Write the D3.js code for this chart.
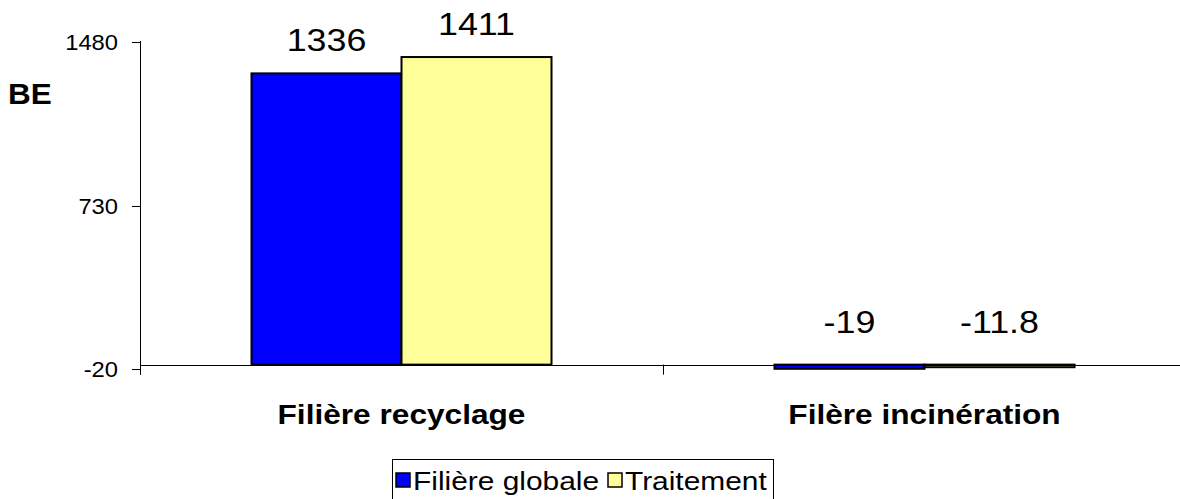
<!DOCTYPE html>
<html>
<head>
<meta charset="utf-8">
<script src="https://cdn.jsdelivr.net/npm/d3@7"></script>
<style>
  html, body { margin: 0; padding: 0; background: #fff; }
  svg { display: block; font-family: "Liberation Sans", Arial, sans-serif; }
</style>
</head>
<body>
<svg id="chart" width="1180" height="499"></svg>
<script>
// Chart data
const categories = ["Filière recyclage", "Filère incinération"];
const seriesNames = ["Filière globale", "Traitement"];
const globaleValues = [1336, -19];
const traitementValues = [1411, -11.8];
const valueLabels = [["1336", "1411"], ["-19", "-11.8"]];
const yTicks = [-20, 730, 1480];
const colors = ["#0000FF", "#FFFF99"];

const svg = d3.select("#chart");

function stretchedText(g, x, y, txt, size, weight, anchor, sx) {
  return g.append("text")
    .attr("transform", `translate(${x},${y}) scale(${sx || 1.15},1)`)
    .attr("text-anchor", anchor || "middle")
    .attr("font-size", size)
    .attr("font-weight", weight || "normal")
    .attr("fill", "#000")
    .text(txt);
}

const y = d3.scaleLinear().domain([-20, 1480]).range([369, 42]);
const x = d3.scaleBand().domain(categories).range([140, 1186]).paddingInner(0).paddingOuter(0);
const barW = 150;
const xs = d3.scaleBand().domain(seriesNames).range([-barW, barW]);

const rows = categories.map((c, i) => ({
  cat: c,
  vals: [globaleValues[i], traitementValues[i]],
  labels: valueLabels[i]
}));

// Bars, measured from zero
const gBars = svg.append("g");
rows.forEach(r => {
  const cx = x(r.cat) + x.bandwidth() / 2;
  r.vals.forEach((v, j) => {
    const y0 = y(Math.max(0, v)), y1 = y(Math.min(0, v));
    gBars.append("rect")
      .attr("x", cx + xs(seriesNames[j]))
      .attr("y", y0)
      .attr("width", xs.bandwidth())
      .attr("height", y1 - y0)
      .attr("fill", colors[j])
      .attr("stroke", "#000")
      .attr("stroke-width", 2);
  });
});

// Axes
const gAxis = svg.append("g").attr("stroke", "#000").attr("stroke-width", 1);
gAxis.append("line").attr("x1", 140.5).attr("x2", 140.5).attr("y1", y(1480) - 1).attr("y2", y(0) + 10);
gAxis.append("line").attr("x1", 140).attr("x2", 1186).attr("y1", Math.round(y(0)) + 0.5).attr("y2", Math.round(y(0)) + 0.5);
yTicks.forEach(t => {
  gAxis.append("line").attr("x1", 132).attr("x2", 140).attr("y1", Math.round(y(t)) + 0.5).attr("y2", Math.round(y(t)) + 0.5);
});
// category separators
[0, 1, 2].forEach(k => {
  const xx = 140 + k * x.bandwidth();
  gAxis.append("line").attr("x1", xx + 0.5).attr("x2", xx + 0.5).attr("y1", y(0)).attr("y2", y(0) + 10);
});

// Tick labels
const gText = svg.append("g");
yTicks.forEach(t => stretchedText(gText, 118, y(t) + 8, String(t), 22, "normal", "end", 1.08));

// Axis title
stretchedText(gText, 8, 104, "BE", 30, "bold", "start", 1.05);

// Value labels
rows.forEach(r => {
  const cx = x(r.cat) + x.bandwidth() / 2;
  r.vals.forEach((v, j) => {
    const bx = cx + xs(seriesNames[j]) + xs.bandwidth() / 2;
    const by = v >= 0 ? y(v) - 22 : 333;
    stretchedText(gText, bx, by, r.labels[j], 32, "normal", "middle", 1.12);
  });
});

// Category labels
categories.forEach(c => stretchedText(gText, x(c) + x.bandwidth() / 2, 424, c, 28, "bold", "middle", 1.13));

// Legend
const gLeg = svg.append("g");
gLeg.append("rect").attr("x", 392.5).attr("y", 459.5).attr("width", 381).attr("height", 50)
  .attr("fill", "#fff").attr("stroke", "#000");
const legItems = [{ x: 396, name: seriesNames[0], c: colors[0] }, { x: 608, name: seriesNames[1], c: colors[1] }];
legItems.forEach(it => {
  gLeg.append("rect").attr("x", it.x).attr("y", 473).attr("width", 14).attr("height", 14)
    .attr("fill", it.c).attr("stroke", "#000").attr("stroke-width", 1.5);
  stretchedText(gLeg, it.x + 17, 490, it.name, 26, "normal", "start", 1.15);
});
</script>
</body>
</html>
